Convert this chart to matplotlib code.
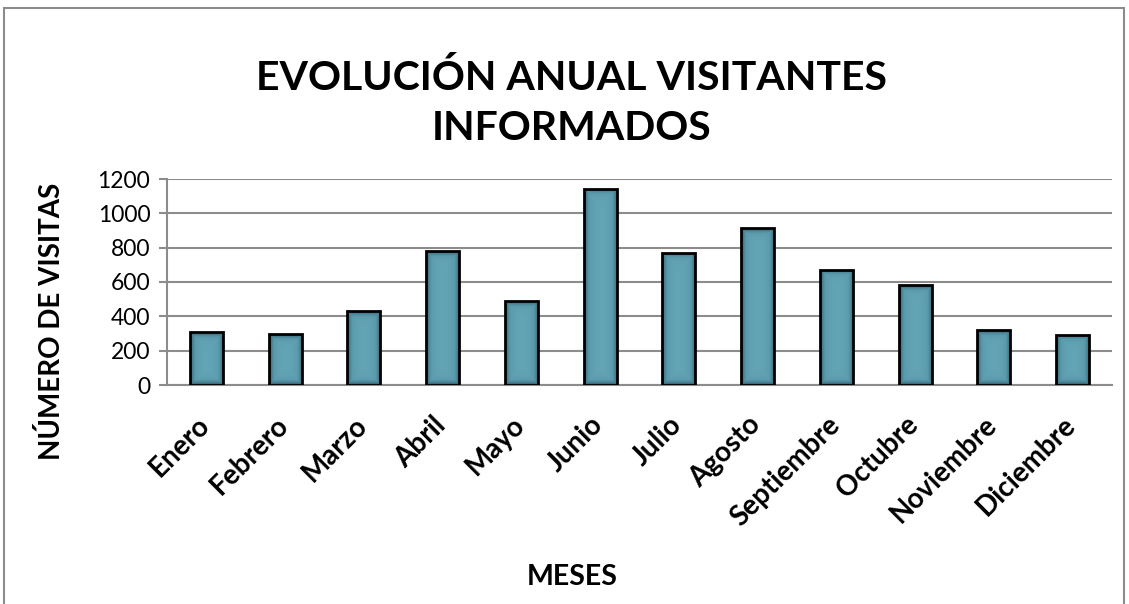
import numpy as np
import matplotlib
matplotlib.use("Agg")
import matplotlib.pyplot as plt
from matplotlib.patches import Rectangle
from matplotlib.colors import LinearSegmentedColormap
from matplotlib.transforms import ScaledTranslation

months = ["Enero", "Febrero", "Marzo", "Abril", "Mayo", "Junio", "Julio",
          "Agosto", "Septiembre", "Octubre", "Noviembre", "Diciembre"]
visits = [307, 297, 429, 780, 487, 1143, 769, 913, 670, 581, 319, 293]
yticks = [0, 200, 400, 600, 800, 1000, 1200]

title = "EVOLUCIÓN ANUAL VISITANTES\nINFORMADOS"
ylabel = "NÚMERO DE VISITAS"
xlabel = "MESES"

plt.rcParams['font.family'] = ['Lato', 'DejaVu Sans']

fig = plt.figure(figsize=(11.29, 6.04), dpi=100)
fig.patch.set_facecolor("white")

# outer chart border
fig.patches.append(Rectangle((4 / 1129, -0.01), 1120 / 1129, 1 - 8 / 604 + 0.01,
                             transform=fig.transFigure, fill=False,
                             edgecolor="#8c8c8c", linewidth=1.5))

ax = fig.add_axes([167 / 1129, 1 - 385 / 604, (1112 - 167) / 1129, (385 - 179) / 604])

x = np.arange(len(months))
bars = ax.bar(x, visits, width=0.42, color="#5b9aab", edgecolor="black",
              linewidth=2, zorder=3)

ax.set_xlim(-0.5, len(months) - 0.5)
ax.set_ylim(0, 1200)

# gradient fill darker towards edges (computed in pixel units)
cmap = LinearSegmentedColormap.from_list(
    "teal", [(0.0, "#64a5b6"), (0.35, "#5a9aac"), (0.7, "#3f7585"), (1.0, "#22434d")])
fig.canvas.draw()
for b in bars:
    bb = b.get_window_extent()
    wpx, hpx = max(int(round(bb.width)), 2), max(int(round(bb.height)), 2)
    xs = np.arange(wpx) + 0.5
    ys = np.arange(hpx) + 0.5
    XX, YY = np.meshgrid(xs, ys)
    dist = np.minimum.reduce([XX, wpx - XX, YY, hpx - YY])
    val = np.exp(-dist / 5.0)
    bx, by = b.get_x(), b.get_y()
    bw, bh = b.get_width(), b.get_height()
    im = ax.imshow(val, cmap=cmap, extent=[bx, bx + bw, by, by + bh],
                   aspect="auto", zorder=3.5, interpolation="bilinear",
                   vmin=0, vmax=1)
    im.set_clip_path(b)
    b.set_facecolor("none")
    b.set_zorder(4)

ax.set_xlim(-0.5, len(months) - 0.5)
ax.set_ylim(0, 1200)
ax.set_yticks(yticks)
ax.set_yticklabels([str(v) for v in yticks], fontsize=16.5)
ax.set_xticks(x)
ax.set_xticklabels(months, rotation=45, ha="right", rotation_mode="anchor",
                   fontsize=20, fontweight="bold")
ax.tick_params(axis="x", length=0, pad=12)
off = ScaledTranslation(-10 / 100, -10 / 100, fig.dpi_scale_trans)
for lab in ax.get_xticklabels():
    lab.set_transform(lab.get_transform() + off)
ax.tick_params(axis="y", length=6, width=1.5, color="#8c8c8c", pad=6)
ax.grid(axis="y", color="#8c8c8c", linewidth=1.5, zorder=0)
ax.set_axisbelow(True)
for s in ["top", "right"]:
    ax.spines[s].set_visible(False)
ax.spines["left"].set_color("#8c8c8c")
ax.spines["left"].set_linewidth(1.5)
ax.spines["bottom"].set_color("#8c8c8c")
ax.spines["bottom"].set_linewidth(1.5)

fig.text(572 / 1129, 1 - 103 / 604, title, ha="center", va="center",
         fontsize=29.5, fontweight="bold", linespacing=1.42)
fig.text(52 / 1129, 1 - 321 / 604, ylabel, ha="center", va="center",
         rotation=90, fontsize=20, fontweight="bold")
fig.text(572 / 1129, 1 - 577 / 604, xlabel, ha="center", va="center",
         fontsize=20.5, fontweight="bold")

fig.savefig("out.png", dpi=100, facecolor="white")
